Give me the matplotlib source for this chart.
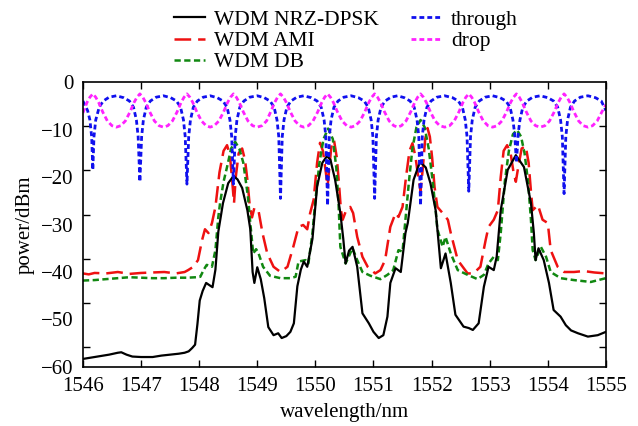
import numpy as np
import matplotlib.pyplot as plt
from matplotlib.ticker import FixedLocator

plt.rcParams['font.family'] = ['Liberation Serif', 'DejaVu Serif']
plt.rcParams['lines.scale_dashes'] = False

# --- spectra (wavelength in nm, power in dBm) ---
nrz_wl = [1546.00, 1546.15, 1546.30, 1546.45, 1546.60, 1546.66, 1546.75, 1546.85, 1547.00, 1547.20,
          1547.35, 1547.50, 1547.65, 1547.75, 1547.82, 1547.88, 1547.93, 1547.97, 1548.01, 1548.06,
          1548.12, 1548.18, 1548.23, 1548.28, 1548.33, 1548.41, 1548.50, 1548.59, 1548.66, 1548.74,
          1548.83, 1548.88, 1548.92, 1548.95, 1549.00, 1549.06, 1549.12, 1549.19, 1549.28, 1549.36,
          1549.42, 1549.50, 1549.57, 1549.63, 1549.69, 1549.75, 1549.80, 1549.86, 1549.95, 1550.03,
          1550.12, 1550.20, 1550.26, 1550.34, 1550.43, 1550.48, 1550.52, 1550.58, 1550.64, 1550.72,
          1550.81, 1550.92, 1551.00, 1551.09, 1551.17, 1551.24, 1551.29, 1551.38, 1551.47, 1551.55,
          1551.59, 1551.69, 1551.80, 1551.90, 1551.98, 1552.07, 1552.10, 1552.16, 1552.24, 1552.33,
          1552.41, 1552.55, 1552.64, 1552.71, 1552.81, 1552.90, 1552.98, 1553.07, 1553.12, 1553.19,
          1553.31, 1553.45, 1553.59, 1553.71, 1553.76, 1553.79, 1553.84, 1553.93, 1554.02, 1554.10,
          1554.22, 1554.31, 1554.40, 1554.52, 1554.69, 1554.86, 1555.00]
nrz_db = [-58.3, -58.0, -57.7, -57.4, -57.0, -56.9, -57.4, -57.8, -57.9, -57.9,
          -57.6, -57.4, -57.2, -57.0, -56.7, -56.0, -55.3, -51.0, -46.0, -44.0,
          -42.3, -42.8, -43.2, -39.5, -31.5, -25.5, -21.3, -19.8, -20.5, -22.3,
          -27.0, -31.0, -40.0, -42.3, -39.0, -41.5, -45.5, -51.6, -53.3, -52.9,
          -53.9, -53.5, -52.6, -50.8, -43.0, -39.5, -37.8, -38.9, -33.0, -22.0,
          -17.0, -15.6, -16.4, -20.6, -27.6, -33.0, -38.2, -35.5, -34.7, -38.9,
          -48.7, -50.8, -52.6, -53.9, -53.3, -49.4, -42.3, -39.2, -40.0, -31.8,
          -29.7, -20.6, -16.8, -18.0, -21.3, -27.0, -31.0, -39.2, -36.1, -42.3,
          -49.0, -51.5, -51.8, -52.2, -50.8, -43.1, -38.9, -39.6, -36.8, -27.0,
          -18.5, -15.4, -17.9, -25.5, -31.8, -37.5, -35.0, -37.5, -42.3, -48.0,
          -49.4, -51.2, -52.3, -52.9, -53.6, -53.3, -52.6]

ami_wl = [1546.00, 1546.10, 1546.20, 1546.40, 1546.60, 1546.80, 1547.00, 1547.20, 1547.40, 1547.60,
          1547.75, 1547.81, 1547.90, 1547.98, 1548.05, 1548.10, 1548.16, 1548.22, 1548.28, 1548.35,
          1548.42, 1548.48, 1548.53, 1548.57, 1548.60, 1548.63, 1548.68, 1548.74, 1548.79, 1548.83,
          1548.87, 1548.91, 1548.95, 1549.02, 1549.09, 1549.17, 1549.28, 1549.40, 1549.52, 1549.62,
          1549.71, 1549.79, 1549.86, 1549.91, 1549.97, 1550.03, 1550.08, 1550.13, 1550.18, 1550.21,
          1550.24, 1550.28, 1550.32, 1550.37, 1550.41, 1550.44, 1550.47, 1550.53, 1550.60, 1550.65,
          1550.72, 1550.81, 1550.90, 1551.03, 1551.12, 1551.20, 1551.29, 1551.38, 1551.43, 1551.50,
          1551.56, 1551.62, 1551.67, 1551.72, 1551.77, 1551.81, 1551.85, 1551.89, 1551.93, 1551.97,
          1552.01, 1552.05, 1552.10, 1552.19, 1552.28, 1552.33, 1552.45, 1552.62, 1552.72, 1552.84,
          1552.93, 1552.98, 1553.07, 1553.14, 1553.19, 1553.24, 1553.30, 1553.36, 1553.41, 1553.45,
          1553.49, 1553.55, 1553.62, 1553.67, 1553.71, 1553.74, 1553.83, 1553.91, 1554.00, 1554.05,
          1554.17, 1554.28, 1554.45, 1554.62, 1554.80, 1555.00]
ami_db = [-40.3, -40.5, -40.2, -40.3, -40.0, -40.4, -40.2, -40.1, -40.0, -40.3,
          -40.0, -39.6, -38.9, -37.5, -33.3, -31.0, -31.8, -29.7, -26.3, -19.0,
          -14.5, -13.3, -15.5, -21.0, -25.5, -20.0, -15.0, -14.0, -16.5, -20.6,
          -26.0, -28.5, -26.5, -27.0, -31.8, -36.0, -38.9, -40.0, -38.9, -34.7,
          -30.5, -30.1, -31.0, -27.6, -24.8, -17.0, -12.8, -14.5, -19.0, -22.0,
          -18.0, -13.0, -12.2, -16.0, -22.0, -27.0, -29.0, -27.0, -26.3, -27.6,
          -32.6, -36.8, -38.9, -40.3, -39.6, -37.5, -30.5, -27.6, -28.4, -26.3,
          -20.0, -14.5, -12.9, -15.5, -20.0, -23.0, -18.0, -12.0, -9.7, -11.5,
          -16.0, -22.0, -26.3, -27.6, -29.0, -31.8, -37.5, -40.3, -40.3, -38.9,
          -33.3, -30.5, -29.0, -27.0, -20.0, -14.5, -13.3, -15.0, -19.0, -21.0,
          -18.0, -14.0, -13.5, -17.0, -23.0, -27.0, -25.9, -29.0, -29.7, -35.4,
          -38.9, -40.0, -40.0, -39.8, -40.1, -40.3]

db_wl = [1546.00, 1546.20, 1546.40, 1546.60, 1546.80, 1547.00, 1547.20, 1547.40, 1547.60, 1547.80,
         1547.95, 1548.02, 1548.08, 1548.13, 1548.22, 1548.28, 1548.33, 1548.36, 1548.42, 1548.48,
         1548.55, 1548.62, 1548.69, 1548.76, 1548.84, 1548.88, 1548.93, 1548.98, 1549.02, 1549.10,
         1549.22, 1549.40, 1549.57, 1549.66, 1549.71, 1549.83, 1549.88, 1549.95, 1550.00, 1550.07,
         1550.14, 1550.22, 1550.30, 1550.36, 1550.40, 1550.43, 1550.52, 1550.64, 1550.72, 1550.81,
         1550.95, 1551.12, 1551.24, 1551.34, 1551.43, 1551.50, 1551.55, 1551.61, 1551.67, 1551.74,
         1551.81, 1551.88, 1551.95, 1552.02, 1552.07, 1552.10, 1552.19, 1552.24, 1552.33, 1552.45,
         1552.62, 1552.79, 1552.90, 1552.98, 1553.07, 1553.14, 1553.19, 1553.26, 1553.33, 1553.40,
         1553.47, 1553.54, 1553.60, 1553.66, 1553.71, 1553.74, 1553.79, 1553.88, 1553.97, 1554.05,
         1554.22, 1554.45, 1554.74, 1555.00]
db_db = [-41.8, -41.7, -41.5, -41.3, -41.1, -41.2, -41.3, -41.3, -41.2, -41.2,
         -41.1, -41.0, -39.5, -38.5, -38.9, -35.4, -28.4, -25.5, -21.0, -17.9,
         -14.0, -12.6, -14.0, -17.0, -24.2, -29.7, -36.1, -35.2, -36.0, -38.9,
         -40.8, -41.3, -41.3, -41.0, -37.8, -37.5, -38.2, -31.8, -25.0, -17.0,
         -12.0, -9.8, -12.0, -18.0, -26.0, -34.7, -38.2, -35.0, -37.5, -40.0,
         -40.8, -41.5, -40.6, -39.6, -35.4, -35.7, -29.0, -21.0, -14.0, -9.5,
         -8.0, -9.5, -14.0, -21.0, -27.0, -31.0, -34.7, -32.6, -36.1, -39.6,
         -40.6, -41.5, -40.6, -38.2, -36.8, -37.5, -31.8, -21.0, -14.5, -11.0,
         -10.1, -11.5, -15.0, -21.0, -29.0, -35.4, -37.5, -34.7, -36.8, -40.0,
         -41.3, -41.7, -42.1, -41.3]

through_wl = [1546.00, 1546.08, 1546.12, 1546.15, 1546.17, 1546.19, 1546.22, 1546.28, 1546.35, 1546.45,
              1546.575, 1546.70, 1546.80, 1546.87, 1546.92, 1546.95, 1546.98, 1547.01, 1547.04, 1547.09,
              1547.16, 1547.26, 1547.385, 1547.51, 1547.61, 1547.68, 1547.73, 1547.76, 1547.79, 1547.82,
              1547.85, 1547.90, 1547.97, 1548.07, 1548.19, 1548.31, 1548.41, 1548.48, 1548.53, 1548.56,
              1548.59, 1548.62, 1548.65, 1548.70, 1548.77, 1548.87, 1549.00, 1549.12, 1549.22, 1549.29,
              1549.34, 1549.37, 1549.40, 1549.43, 1549.46, 1549.51, 1549.58, 1549.68, 1549.80, 1549.93,
              1550.03, 1550.10, 1550.15, 1550.18, 1550.21, 1550.24, 1550.27, 1550.32, 1550.39, 1550.49,
              1550.615, 1550.74, 1550.84, 1550.91, 1550.96, 1550.99, 1551.02, 1551.05, 1551.08, 1551.13,
              1551.20, 1551.30, 1551.415, 1551.53, 1551.63, 1551.70, 1551.75, 1551.78, 1551.81, 1551.84,
              1551.87, 1551.92, 1551.99, 1552.09, 1552.225, 1552.36, 1552.46, 1552.53, 1552.58, 1552.61,
              1552.64, 1552.67, 1552.70, 1552.75, 1552.82, 1552.92, 1553.05, 1553.18, 1553.28, 1553.35,
              1553.40, 1553.43, 1553.46, 1553.49, 1553.52, 1553.57, 1553.64, 1553.74, 1553.87, 1554.00,
              1554.10, 1554.17, 1554.22, 1554.25, 1554.28, 1554.31, 1554.34, 1554.39, 1554.46, 1554.56,
              1554.69, 1554.82, 1554.92, 1555.00]
through_db = [-4.0, -6.0, -8.0, -11.5, -18.5, -11.5, -8.0, -5.3, -4.0, -3.2,
              -2.9, -3.3, -4.0, -5.3, -8.0, -11.5, -21.0, -11.5, -8.0, -5.3,
              -4.0, -3.2, -2.9, -3.3, -4.0, -5.3, -8.0, -11.5, -21.5, -11.5,
              -8.0, -5.3, -4.0, -3.2, -2.9, -3.3, -4.0, -5.3, -8.0, -11.5,
              -21.5, -11.5, -8.0, -5.3, -4.0, -3.2, -2.9, -3.3, -4.0, -5.3,
              -8.0, -11.5, -24.5, -11.5, -8.0, -5.3, -4.0, -3.2, -2.9, -3.3,
              -4.0, -5.3, -8.0, -11.5, -26.0, -11.5, -8.0, -5.3, -4.0, -3.2,
              -2.9, -3.3, -4.0, -5.3, -8.0, -11.5, -24.5, -11.5, -8.0, -5.3,
              -4.0, -3.2, -2.9, -3.3, -4.0, -5.3, -8.0, -11.5, -26.0, -11.5,
              -8.0, -5.3, -4.0, -3.2, -2.9, -3.3, -4.0, -5.3, -8.0, -11.5,
              -23.0, -11.5, -8.0, -5.3, -4.0, -3.2, -2.9, -3.3, -4.0, -5.3,
              -8.0, -11.0, -17.0, -11.0, -8.0, -5.3, -4.0, -3.2, -2.9, -3.3,
              -4.0, -5.3, -8.0, -11.5, -23.5, -11.5, -8.0, -5.3, -4.0, -3.2,
              -2.9, -3.3, -4.0, -6.0]

drop_wl = [1546.00, 1546.07, 1546.12, 1546.17, 1546.22, 1546.27, 1546.34, 1546.42, 1546.50, 1546.575,
           1546.65, 1546.73, 1546.81, 1546.88, 1546.93, 1546.98, 1547.03, 1547.08, 1547.15, 1547.23,
           1547.31, 1547.385, 1547.46, 1547.54, 1547.62, 1547.69, 1547.74, 1547.79, 1547.84, 1547.89,
           1547.96, 1548.04, 1548.12, 1548.19, 1548.26, 1548.34, 1548.42, 1548.49, 1548.54, 1548.59,
           1548.64, 1548.69, 1548.76, 1548.84, 1548.92, 1549.00, 1549.08, 1549.16, 1549.23, 1549.30,
           1549.35, 1549.40, 1549.45, 1549.50, 1549.57, 1549.65, 1549.73, 1549.80, 1549.88, 1549.96,
           1550.04, 1550.11, 1550.16, 1550.21, 1550.26, 1550.31, 1550.38, 1550.46, 1550.54, 1550.615,
           1550.69, 1550.77, 1550.85, 1550.92, 1550.97, 1551.02, 1551.07, 1551.12, 1551.19, 1551.27,
           1551.35, 1551.415, 1551.48, 1551.56, 1551.64, 1551.71, 1551.76, 1551.81, 1551.86, 1551.91,
           1551.98, 1552.06, 1552.14, 1552.225, 1552.31, 1552.39, 1552.47, 1552.54, 1552.59, 1552.64,
           1552.69, 1552.74, 1552.81, 1552.89, 1552.97, 1553.05, 1553.13, 1553.21, 1553.29, 1553.36,
           1553.41, 1553.46, 1553.51, 1553.56, 1553.63, 1553.71, 1553.79, 1553.87, 1553.95, 1554.03,
           1554.11, 1554.18, 1554.23, 1554.28, 1554.33, 1554.38, 1554.45, 1554.53, 1554.61, 1554.69,
           1554.77, 1554.85, 1554.93, 1555.00]
drop_db = [-6.5, -4.3, -3.2, -2.5, -3.2, -4.3, -6.3, -8.2, -9.2, -9.5,
           -9.2, -8.2, -6.3, -4.3, -3.2, -2.5, -3.2, -4.3, -6.3, -8.2,
           -9.2, -9.5, -9.2, -8.2, -6.3, -4.3, -3.2, -2.5, -3.2, -4.3,
           -6.3, -8.2, -9.2, -9.5, -9.2, -8.2, -6.3, -4.3, -3.2, -2.5,
           -3.2, -4.3, -6.3, -8.2, -9.2, -9.5, -9.2, -8.2, -6.3, -4.3,
           -3.2, -2.5, -3.2, -4.3, -6.3, -8.2, -9.2, -9.5, -9.2, -8.2,
           -6.3, -4.3, -3.2, -2.5, -3.2, -4.3, -6.3, -8.2, -9.2, -9.5,
           -9.2, -8.2, -6.3, -4.3, -3.2, -2.5, -3.2, -4.3, -6.3, -8.2,
           -9.2, -9.5, -9.2, -8.2, -6.3, -4.3, -3.2, -2.5, -3.2, -4.3,
           -6.3, -8.2, -9.2, -9.5, -9.2, -8.2, -6.3, -4.3, -3.2, -2.5,
           -3.2, -4.3, -6.3, -8.2, -9.2, -9.5, -9.2, -8.2, -6.3, -4.3,
           -3.2, -2.5, -3.2, -4.3, -6.3, -8.2, -9.2, -9.5, -9.2, -8.2,
           -6.3, -4.3, -3.2, -2.5, -3.2, -4.3, -6.3, -8.2, -9.2, -9.5,
           -9.2, -8.2, -6.3, -4.8]

x_ticks = [1546, 1547, 1548, 1549, 1550, 1551, 1552, 1553, 1554, 1555]
y_ticks = [0, -10, -20, -30, -40, -50, -60]

fig = plt.figure(figsize=(6.38, 4.26), dpi=100)
ax = fig.add_axes([0.130, 0.1385, 0.8197, 0.669])

l_ami, = ax.plot(ami_wl, ami_db, color='#ee1111', lw=1.8, dashes=(12, 5), label='WDM AMI')
l_db, = ax.plot(db_wl, db_db, color='#118811', lw=1.8, dashes=(4.5, 2.5), label='WDM DB')
l_nrz, = ax.plot(nrz_wl, nrz_db, color='black', lw=1.6, label='WDM NRZ-DPSK')
l_thr, = ax.plot(through_wl, through_db, color='#1010ee', lw=2.0, dashes=(3.5, 2.2), label='through')
l_drop, = ax.plot(drop_wl, drop_db, color='#ff22ff', lw=2.0, dashes=(3.5, 2.2), label='drop')

ax.set_xlim(1546, 1555)
ax.set_ylim(-60, 0)
ax.set_xticks(x_ticks)
ax.set_yticks(y_ticks)
ax.tick_params(axis='x', which='major', direction='in', top=True, length=5, width=1,
               labelsize=15, pad=7)
ax.tick_params(axis='y', which='major', length=0, labelsize=15, pad=7)
# the tick marks on the y axis sit on their own spacing, apart from the labels
ax.yaxis.set_minor_locator(FixedLocator([-9.3, -18.6, -27.9, -37.2, -46.5, -55.8]))
ax.tick_params(axis='y', which='minor', direction='in', left=True, right=True, length=5, width=1)
for s in ax.spines.values():
    s.set_linewidth(1.2)

ax.set_xlabel('wavelength/nm', fontsize=15, labelpad=5)
ax.set_ylabel('power/dBm', fontsize=15, labelpad=4)

fig.legend(handles=[l_nrz, l_ami, l_db, l_thr, l_drop], ncol=2, frameon=False,
           loc='upper left', bbox_to_anchor=(0.249, 1.012), fontsize=15.5,
           handlelength=1.45, handletextpad=0.4, columnspacing=1.5,
           labelspacing=0.05, borderpad=0.2)

fig.savefig('out.png', dpi=100)
